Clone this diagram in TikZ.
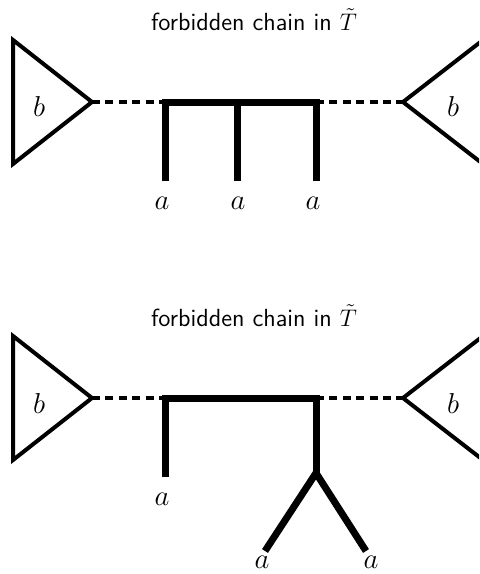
\documentclass[tikz,border=0pt]{standalone}
\begin{document}
\begin{tikzpicture}[x=0.5pt,y=-0.5pt,
  tri/.style={line width=2pt,line join=miter},
  chain/.style={line width=3.5pt,line cap=butt,line join=miter},
  dashlink/.style={line width=2pt,dash pattern=on 4pt off 2.7pt},
  lab/.style={inner sep=0pt,font=\fontsize{13.5}{15}\selectfont},
  title/.style={inner sep=0pt,font=\fontsize{12.4}{14}\selectfont\sffamily}]
\useasboundingbox (0,0) rectangle (479,574);
\clip (0,0) rectangle (479,574);
% ---------- top diagram ----------
\node[title] (t1) at (254,20) {forbidden chain in $\tilde T$};
\draw[tri] (13,40) -- (13,164) -- (92,102) -- cycle;
\coordinate (la1) at (92,102);
\node[lab] (b1) at (39,106) {$b$};
\draw[tri] (483,40) -- (483,164) -- (403,102) -- cycle;
\coordinate (ra1) at (403,102);
\node[lab] (b2) at (453,106) {$b$};
\coordinate (p1) at (165,102);
\coordinate (p2) at (237,102);
\coordinate (p3) at (316,102);
\coordinate (q1) at (165,181);
\coordinate (q2) at (237,181);
\coordinate (q3) at (316,181);
\draw[dashlink] (la1) -- (p1);
\draw[dashlink] (p3) -- (ra1);
\draw[chain] (q1) -- (p1) -- (p3) -- (q3);
\draw[chain] (p2) -- (q2);
\node[lab] (a1) at (162,203) {$a$};
\node[lab] (a2) at (238,203) {$a$};
\node[lab] (a3) at (313,203) {$a$};
% ---------- bottom diagram ----------
\node[title] (t2) at (254,316) {forbidden chain in $\tilde T$};
\draw[tri] (13,336) -- (13,460) -- (92,398) -- cycle;
\coordinate (la2) at (92,398);
\node[lab] (b3) at (39,403) {$b$};
\draw[tri] (483,336) -- (483,460) -- (403,398) -- cycle;
\coordinate (ra2) at (403,398);
\node[lab] (b4) at (453,403) {$b$};
\coordinate (r1) at (165,398);
\coordinate (r3) at (316,398);
\coordinate (s1) at (165,477);
\coordinate (s3) at (316,473);
\coordinate (u1) at (265,551);
\coordinate (u2) at (366,551);
\draw[dashlink] (la2) -- (r1);
\draw[dashlink] (r3) -- (ra2);
\draw[chain] (s1) -- (r1) -- (r3) -- (s3);
\draw[chain] (u1) -- (s3) -- (u2);
\node[lab] (a4) at (162,499) {$a$};
\node[lab] (a5) at (262,562) {$a$};
\node[lab] (a6) at (371,562) {$a$};
\end{tikzpicture}
\end{document}
